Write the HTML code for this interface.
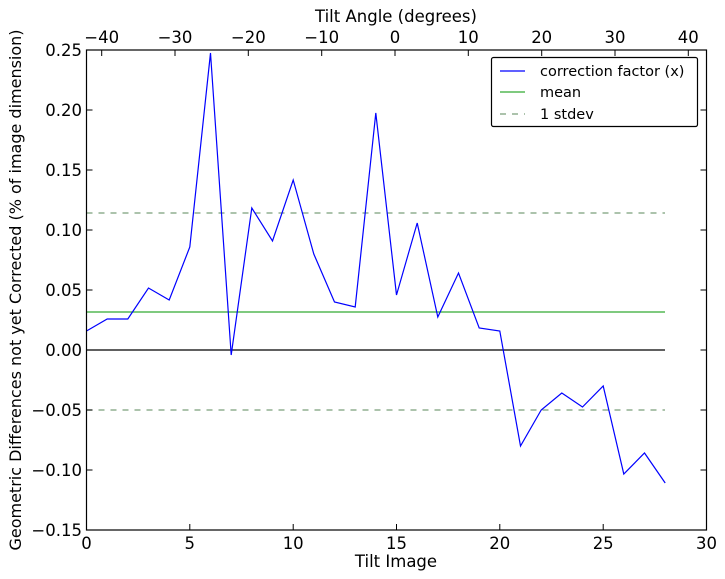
<!DOCTYPE html>
<html><head><style>body{margin:0;background:#fff}svg{display:block}text{font-family:"DejaVu Sans","Liberation Sans",sans-serif;font-size:16.5px;fill:#000}text.lg{font-size:14.5px}</style></head>
<body>
<svg width="725" height="579" viewBox="0 0 725 579">
<rect width="725" height="579" fill="#fff"/>
<g fill="none" stroke-width="1.2">
<line x1="86.5" y1="312" x2="665" y2="312" stroke="#3a3"/>
<line x1="86.5" y1="213" x2="665" y2="213" stroke="#7a9f7a" stroke-dasharray="6,6"/>
<line x1="86.5" y1="410" x2="665" y2="410" stroke="#7a9f7a" stroke-dasharray="6,6"/>
<line x1="86.5" y1="350" x2="665" y2="350" stroke="#000"/>
<polyline stroke="#00f" points="86.5,331 107.2,319 127.8,319 148.5,288 169.2,300 189.8,247 210.5,53 231.2,355 251.8,208 272.5,241 293.2,180 313.8,254 334.5,302 355.2,307 375.8,113 396.5,295 417.2,223 437.8,317 458.5,273 479.2,328 499.8,331 520.5,446 541.2,410 561.8,393 582.5,407 603.2,386 623.8,474 644.5,453 665.2,483"/>
</g>
<rect x="86.5" y="50" width="620" height="480" fill="none" stroke="#000" stroke-width="1.2"/>
<g stroke="#000" stroke-width="1">
<line x1="86.5" y1="530" x2="86.5" y2="524"/><line x1="189.8" y1="530" x2="189.8" y2="524"/><line x1="293.2" y1="530" x2="293.2" y2="524"/><line x1="396.5" y1="530" x2="396.5" y2="524"/><line x1="499.8" y1="530" x2="499.8" y2="524"/><line x1="603.2" y1="530" x2="603.2" y2="524"/>
<line x1="101.7" y1="50" x2="101.7" y2="56"/><line x1="175" y1="50" x2="175" y2="56"/><line x1="248.3" y1="50" x2="248.3" y2="56"/><line x1="321.7" y1="50" x2="321.7" y2="56"/><line x1="395" y1="50" x2="395" y2="56"/><line x1="468.3" y1="50" x2="468.3" y2="56"/><line x1="541.7" y1="50" x2="541.7" y2="56"/><line x1="615" y1="50" x2="615" y2="56"/><line x1="688.3" y1="50" x2="688.3" y2="56"/>
<line x1="86.5" y1="110" x2="92.5" y2="110"/><line x1="86.5" y1="170" x2="92.5" y2="170"/><line x1="86.5" y1="230" x2="92.5" y2="230"/><line x1="86.5" y1="290" x2="92.5" y2="290"/><line x1="86.5" y1="350" x2="92.5" y2="350"/><line x1="86.5" y1="410" x2="92.5" y2="410"/><line x1="86.5" y1="470" x2="92.5" y2="470"/>
<line x1="706.5" y1="110" x2="700.5" y2="110"/><line x1="706.5" y1="170" x2="700.5" y2="170"/><line x1="706.5" y1="230" x2="700.5" y2="230"/><line x1="706.5" y1="290" x2="700.5" y2="290"/><line x1="706.5" y1="350" x2="700.5" y2="350"/><line x1="706.5" y1="410" x2="700.5" y2="410"/><line x1="706.5" y1="470" x2="700.5" y2="470"/>
</g>
<g text-anchor="middle">
<text x="86.5" y="549">0</text><text x="189.8" y="549">5</text><text x="293.2" y="549">10</text><text x="396.5" y="549">15</text><text x="499.8" y="549">20</text><text x="603.2" y="549">25</text><text x="706.5" y="549">30</text>
<text x="101.7" y="43">−40</text><text x="175" y="43">−30</text><text x="248.3" y="43">−20</text><text x="321.7" y="43">−10</text><text x="395" y="43">0</text><text x="468.3" y="43">10</text><text x="541.7" y="43">20</text><text x="615" y="43">30</text><text x="688.3" y="43">40</text>
<text x="396" y="567">Tilt Image</text>
<text x="396" y="22">Tilt Angle (degrees)</text>
<text transform="translate(21,290) rotate(-90)" style="font-size:16px">Geometric Differences not yet Corrected (% of image dimension)</text>
</g>
<g text-anchor="end">
<text x="82" y="56">0.25</text><text x="82" y="116">0.20</text><text x="82" y="176">0.15</text><text x="82" y="236">0.10</text><text x="82" y="296">0.05</text><text x="82" y="356">0.00</text><text x="82" y="416">−0.05</text><text x="82" y="476">−0.10</text><text x="82" y="536">−0.15</text>
</g>
<rect x="491.5" y="57.5" width="206" height="69" fill="#fff" stroke="#000" stroke-width="1.2" rx="2"/>
<line x1="500" y1="71" x2="525" y2="71" stroke="#00f" stroke-width="1.2"/>
<line x1="500" y1="92" x2="525" y2="92" stroke="#3a3" stroke-width="1.2"/>
<line x1="500" y1="114" x2="525" y2="114" stroke="#7a9f7a" stroke-width="1.2" stroke-dasharray="6,6"/>
<text class="lg" x="540" y="76">correction factor (x)</text>
<text class="lg" x="540" y="97">mean</text>
<text class="lg" x="540" y="119">1 stdev</text>
</svg>
</body></html>
